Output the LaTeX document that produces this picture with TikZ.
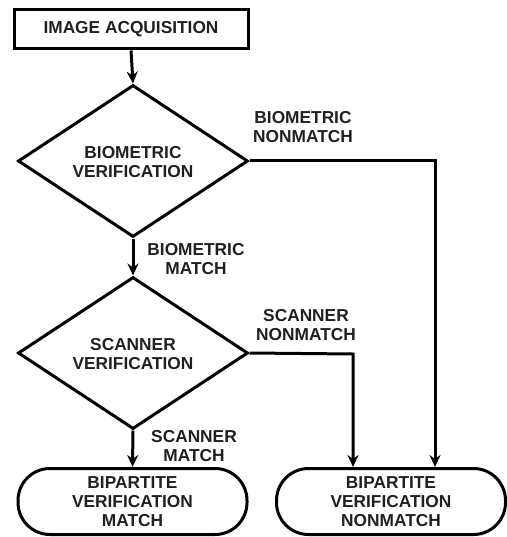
\documentclass[tikz,border=0pt]{standalone}
\usepackage{fontspec}
\setmainfont{Liberation Sans}
\usetikzlibrary{shapes.geometric,arrows.meta}
\definecolor{txt}{RGB}{35,31,32}
\begin{document}
\begin{tikzpicture}[x=1pt,y=-1pt,
  every node/.style={font=\bfseries\fontsize{17.3}{19}\selectfont, text=txt, align=center},
  procbox/.style={draw=black, line width=3pt, minimum width=234pt, minimum height=39pt, inner sep=0pt},
  decision/.style={draw=black, line width=3pt, diamond, aspect=1.51, minimum width=230pt, minimum height=152pt, inner sep=0pt},
  term/.style={draw=black, line width=3pt, rounded corners=32pt, minimum width=229pt, minimum height=66pt, inner sep=0pt},
  lbl/.style={inner sep=0pt},
  conn/.style={draw=black, line width=3pt, -{Stealth[length=12pt,width=11pt,inset=4pt]}}
]
\useasboundingbox (0,0) rectangle (506,537);
\node[procbox] (acq) at (131,29.5) {IMAGE ACQUISITION};
\node[decision] (d1) at (133,161) {};
\node[lbl] (d1t) at (133,162) {BIOMETRIC\\VERIFICATION};
\node[decision] (d2) at (133,353) {};
\node[lbl] (d2t) at (133,354) {SCANNER\\VERIFICATION};
\node[term] (t1) at (132.5,501.5) {BIPARTITE\\VERIFICATION\\MATCH};
\node[term] (t2) at (391,501.5) {BIPARTITE\\VERIFICATION\\NONMATCH};
\coordinate (c1) at (435,161);
\coordinate (c2) at (353,354);
\draw[conn] (acq.south) -- (d1.north);
\draw[conn] (d1.south) -- (d2.north);
\draw[conn] (d2.south) -- (t1.north);
\draw[conn] (d1.east) -- (c1) -- (c1 |- t2.north);
\draw[conn] (d2.east) -- (c2) -- (c2 |- t2.north);
\node[lbl] (l1) at (303,127) {BIOMETRIC\\NONMATCH};
\node[lbl] (l2) at (196,259) {BIOMETRIC\\MATCH};
\node[lbl] (l3) at (306,325) {SCANNER\\NONMATCH};
\node[lbl] (l4) at (194,446) {SCANNER\\MATCH};
\end{tikzpicture}
\end{document}
